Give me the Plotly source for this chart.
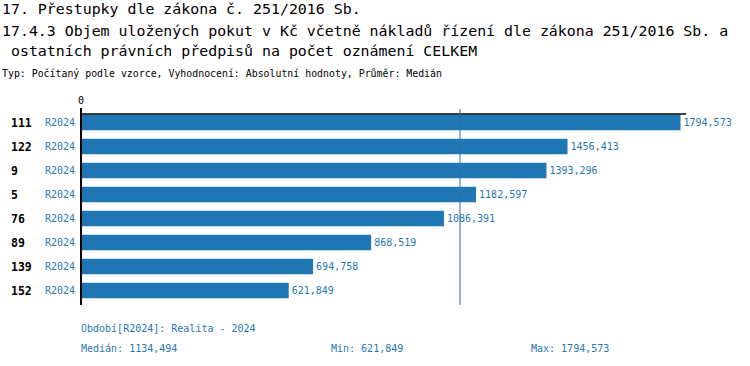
import plotly.graph_objects as go

categories = ["111", "122", "9", "5", "76", "89", "139", "152"]
series_names = ["R2024"] * 8
values = [1794.573, 1456.413, 1393.296, 1182.597, 1086.391, 868.519, 694.758, 621.849]
median_value = 1134.494
min_value = 621.849
max_value = 1794.573

title_lines = [
    "17. Přestupky dle zákona č. 251/2016 Sb.",
    "17.4.3 Objem uložených pokut v Kč včetně nákladů řízení dle zákona 251/2016 Sb. a",
    "\u00a0ostatních právních předpisů na počet oznámení CELKEM",
]
subtitle = "Typ: Počítaný podle vzorce, Vyhodnocení: Absolutní hodnoty, Průměr: Medián"
period_note = "Období[R2024]: Realita - 2024"

def cz(v):
    return f"{v:.3f}".replace(".", ",")

W, H = 750, 366
ML, MR, MT, MB = 81, 64, 109, 61
PW = W - ML - MR
XMAX = 1811
BLUE = "#1f77b4"
MONO = "DejaVu Sans Mono"

ypos = list(range(len(categories)))

fig = go.Figure()
fig.add_trace(go.Bar(
    y=ypos, x=values, orientation="h",
    marker=dict(color=BLUE, line=dict(width=0)),
    width=0.65,
    text=[cz(v) for v in values],
    textposition="outside",
    textfont=dict(family=MONO, size=10, color=BLUE),
    constraintext="none",
    cliponaxis=False,
    hoverinfo="skip",
))

def px2paper(px):
    return (px - ML) / PW

def py2paper(py):
    return 1 - (py - MT) / (H - MT - MB)

ann = []
for txt, yy in [(title_lines[0], 9), (title_lines[1], 31), (title_lines[2], 51)]:
    ann.append(dict(text=txt, xref="paper", yref="paper", x=px2paper(0), y=py2paper(yy),
                    xanchor="left", yanchor="middle", showarrow=False,
                    font=dict(family=MONO, size=14.9, color="black")))
ann.append(dict(text=subtitle, xref="paper", yref="paper", x=px2paper(0), y=py2paper(73),
                xanchor="left", yanchor="middle", showarrow=False,
                font=dict(family=MONO, size=9.9, color="black")))
ann.append(dict(text="0", xref="paper", yref="paper", x=px2paper(81), y=py2paper(101),
                xanchor="center", yanchor="middle", showarrow=False,
                font=dict(family=MONO, size=10, color="black")))
for i, (c, s) in enumerate(zip(categories, series_names)):
    ann.append(dict(text=f"<b>{c}</b>", xref="paper", yref="y", x=px2paper(9), y=i,
                    xanchor="left", yanchor="middle", showarrow=False,
                    font=dict(family=MONO, size=11.5, color="black")))
    ann.append(dict(text=s, xref="paper", yref="y", x=px2paper(77), y=i,
                    xanchor="right", yanchor="middle", showarrow=False,
                    font=dict(family=MONO, size=10, color=BLUE)))
ann.append(dict(text=period_note, xref="paper", yref="paper", x=px2paper(79), y=py2paper(328),
                xanchor="left", yanchor="middle", showarrow=False,
                font=dict(family=MONO, size=10, color=BLUE)))
for lbl, val, px in [("Medián", median_value, 79), ("Min", min_value, 329), ("Max", max_value, 529)]:
    ann.append(dict(text=f"{lbl}: {cz(val)}", xref="paper", yref="paper", x=px2paper(px), y=py2paper(348),
                    xanchor="left", yanchor="middle", showarrow=False,
                    font=dict(family=MONO, size=10, color=BLUE)))

shapes = [
    dict(type="line", xref="paper", yref="paper", x0=px2paper(81), x1=px2paper(686),
         y0=py2paper(114), y1=py2paper(114), line=dict(color="black", width=1.5)),
    dict(type="line", xref="paper", yref="paper", x0=px2paper(81), x1=px2paper(81),
         y0=py2paper(108), y1=py2paper(305), line=dict(color="black", width=2)),
    dict(type="line", xref="x", yref="paper", x0=median_value, x1=median_value,
         y0=py2paper(109), y1=py2paper(305), line=dict(color="#2f6f9f", width=1)),
]

fig.update_layout(
    width=W, height=H,
    margin=dict(l=ML, r=MR, t=MT, b=MB, pad=0),
    paper_bgcolor="white", plot_bgcolor="white",
    showlegend=False,
    xaxis=dict(range=[0, XMAX], visible=False, fixedrange=True),
    yaxis=dict(range=[7.604, -0.5625], visible=False, fixedrange=True),
    annotations=ann, shapes=shapes,
)

fig.write_html("out.html", config={"displayModeBar": False},
               post_script="document.body.style.margin='0';document.body.style.overflow='hidden';")
